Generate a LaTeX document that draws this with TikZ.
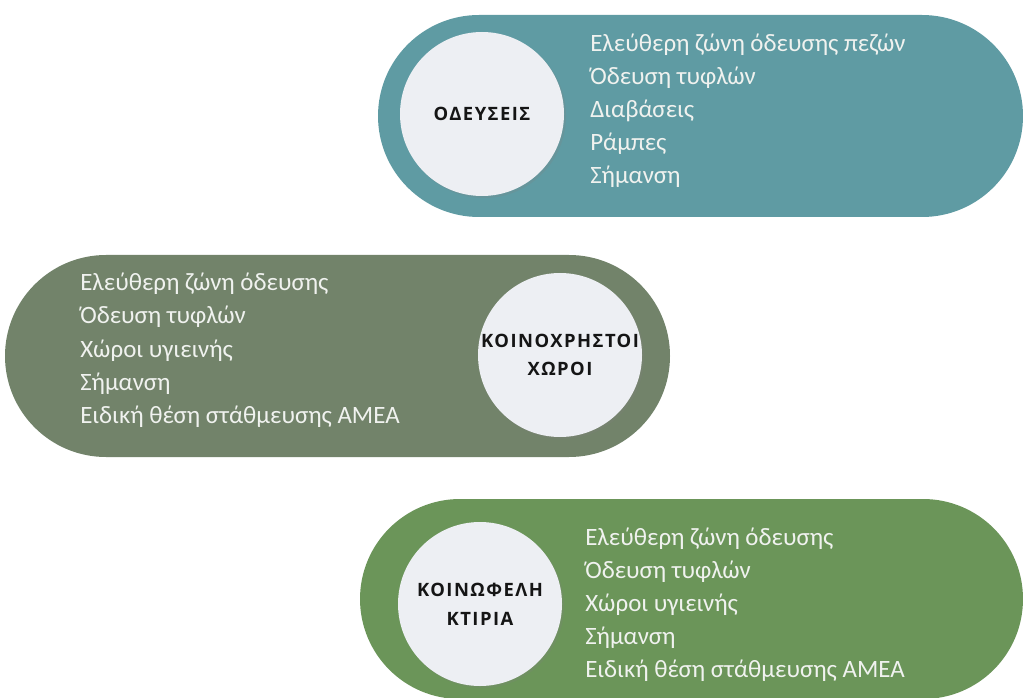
\documentclass[tikz,border=0pt]{standalone}
\usepackage{fontspec}
\setmainfont{Carlito}
\newfontfamily\capfont[LetterSpace=8]{Open Sans}
\usetikzlibrary{shapes.misc,shadows}
\definecolor{pillA}{HTML}{5F9BA3}
\definecolor{pillB}{HTML}{72836A}
\definecolor{pillC}{HTML}{6B9559}
\definecolor{discfill}{HTML}{EDEFF3}
\definecolor{itemcol}{HTML}{F0F2EF}
\definecolor{capcol}{HTML}{151515}
\begin{document}
\begin{tikzpicture}[x=0.75pt,y=-0.75pt,
  pill/.style={rounded rectangle, draw=none, inner sep=0, minimum height=202*0.75pt},
  disc/.style={circle, fill=discfill, minimum size=164*0.75pt, inner sep=0, align=center,
    text=capcol, font=\capfont\bfseries\fontsize{13.8}{21.5}\selectfont,
    drop shadow={shadow xshift=1.5pt, shadow yshift=-1.5pt, opacity=0.22}},
  item/.style={anchor=base west, inner sep=0, text=itemcol, font=\fontsize{18.7}{20}\selectfont}]
\useasboundingbox (0,0) rectangle (1023,698);
% pill 1
\node[pill, fill=pillA, minimum width=645*0.75pt] (p1) at (700.5,116) {};
\node[disc] (c1) at (482,114) {ΟΔΕΥΣΕΙΣ};
\foreach \t [count=\i] in {Ελεύθερη ζώνη όδευσης πεζών, Όδευση τυφλών, Διαβάσεις, Ράμπες, Σήμανση}
  \node[item] (a\i) at (590,{52+33*(\i-1)}) {\t};
% pill 2
\node[pill, fill=pillB, minimum width=665*0.75pt] (p2) at (337.5,356) {};
\node[disc] (c2) at (560,355) {ΚΟΙΝΟΧΡΗΣΤΟΙ\\ΧΩΡΟΙ};
\foreach \t [count=\i] in {Ελεύθερη ζώνη όδευσης, Όδευση τυφλών, Χώροι υγιεινής, Σήμανση, Ειδική θέση στάθμευσης ΑΜΕΑ}
  \node[item] (b\i) at (80,{291+33*(\i-1)}) {\t};
% pill 3
\node[pill, fill=pillC, minimum width=663*0.75pt, minimum height=200*0.75pt] (p3) at (691.5,599) {};
\node[disc] (c3) at (480,604) {ΚΟΙΝΩΦΕΛΗ\\ΚΤΙΡΙΑ};
\foreach \t [count=\i] in {Ελεύθερη ζώνη όδευσης, Όδευση τυφλών, Χώροι υγιεινής, Σήμανση, Ειδική θέση στάθμευσης ΑΜΕΑ}
  \node[item] (d\i) at (585,{545+33*(\i-1)}) {\t};
\end{tikzpicture}
\end{document}
